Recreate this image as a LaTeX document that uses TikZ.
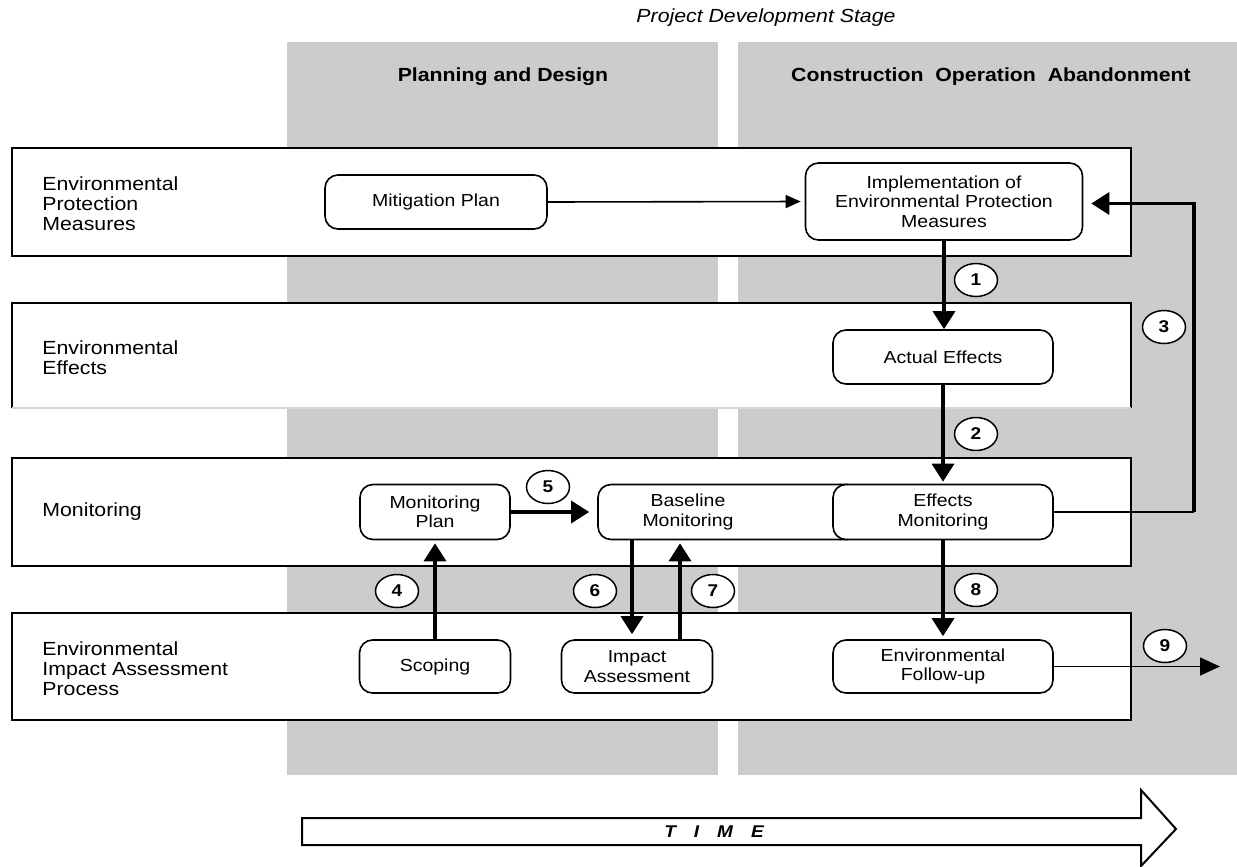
\documentclass[tikz,border=0pt]{standalone}
\usepackage{fontspec}
\setmainfont{Liberation Sans}[FakeStretch=1.12]
\usetikzlibrary{arrows.meta,shapes.geometric}
\definecolor{colgray}{RGB}{204,204,204}
\definecolor{edgegray}{RGB}{215,215,215}
\begin{document}
\begin{tikzpicture}[x=0.5pt,y=-0.5pt,
  lane/.style={draw=black,line width=1pt,fill=white},
  lanelabel/.style={anchor=west,align=left,font=\fontsize{9.5}{10}\selectfont,inner sep=0pt},
  proc/.style={draw=black,line width=0.8pt,rounded corners=6.5pt,fill=white,align=center,
    font=\fontsize{8.7}{9.75}\selectfont,inner sep=0pt},
  proctext/.style={align=center,font=\fontsize{8.7}{9.75}\selectfont,inner sep=0pt},
  numlabel/.style={ellipse,draw=black,line width=0.75pt,fill=white,minimum width=21.5pt,
    minimum height=16.5pt,inner sep=0pt,font=\fontsize{8.5}{9}\selectfont\bfseries},
  thinarrow/.style={line width=0.8pt,-{Triangle[width=6.5pt,length=7.5pt]}},
  bigthinarrow/.style={line width=0.8pt,-{Triangle[width=9pt,length=10pt]}},
  thickarrow/.style={line width=1.7pt,-{Triangle[width=11pt,length=9pt]}},
  colhead/.style={font=\fontsize{9.5}{10}\selectfont\bfseries,inner sep=0pt}
]
\useasboundingbox (0,0) rectangle (1237,867);
% columns
\fill[colgray] (287,42) rectangle (718,775);
\fill[colgray] (738,42) rectangle (1237,775);
\node[font=\fontsize{9.5}{10}\selectfont\itshape,inner sep=0pt] (title) at (766,18) {Project Development Stage};
\node[colhead] (h1) at (503,77) {Planning and Design};
\node[colhead] (h2) at (991,77) {Construction\ \ Operation\ \ Abandonment};
% lanes
\draw[lane] (12,148) rectangle (1131,256);
\fill[white] (12,303) rectangle (1131,408);
\draw[line width=1pt] (12,408) -- (12,303) -- (1131,303) -- (1131,408);
\draw[line width=1pt,edgegray] (12,408) -- (1131,408);
\draw[lane] (12,458) rectangle (1131,566);
\draw[lane] (12,613) rectangle (1131,720);
\node[lanelabel] (l1) at (42,204) {Environmental\\Protection\\Measures};
\node[lanelabel] (l2) at (42,358) {Environmental\\Effects};
\node[lanelabel] (l3) at (42,512) {Monitoring};
\node[lanelabel] (l4) at (42,669) {Environmental\\Impact Assessment\\Process};
% process nodes
\node[proc,minimum width=111pt,minimum height=27pt] (mit) at (436,202) {Mitigation Plan};
\node[proc,minimum width=138.5pt,minimum height=38.5pt] (impl) at (944,201.5) {Implementation of\\Environmental Protection\\Measures};
\node[proc,minimum width=110pt,minimum height=27pt] (act) at (943,357) {Actual Effects};
\node[proc,minimum width=75pt,minimum height=27.5pt] (monplan) at (435,512) {Monitoring\\Plan};
\node[proc,minimum width=131pt,minimum height=27.5pt] (base) at (729,512) {};
\node[proctext] (basetxt) at (688,512) {Baseline\\Monitoring};
\node[proc,minimum width=110pt,minimum height=27.5pt] (effmon) at (943,512) {Effects\\Monitoring};
\node[proc,minimum width=75.5pt,minimum height=26.5pt] (scop) at (435,666.5) {Scoping};
\node[proc,minimum width=75.5pt,minimum height=26.5pt] (impact) at (637,666.5) {Impact\\Assessment};
\node[proc,minimum width=110pt,minimum height=26.5pt] (follow) at (943,666.5) {Environmental\\Follow-up};
% connectors
\draw[thinarrow,shorten >=2pt] (mit.east) -- (impl.west);
\draw[thickarrow] (impl.south) -- (impl.south |- act.north);
\draw[thickarrow,shorten >=1pt] (act.south) -- (act.south |- effmon.north);
\coordinate (c3) at (1194,512);
\draw[line width=0.8pt] (effmon.east) -- (c3);
\draw[thickarrow,shorten >=4pt] (c3) |- ([yshift=-1pt]impl.east);
\draw[thickarrow,shorten >=1.5pt] (scop.north) -- (monplan.south);
\draw[thickarrow,shorten >=4pt] (monplan.east) -- (base.west);
\coordinate (x6) at (632,0);
\coordinate (x7) at (680,0);
\draw[thickarrow,shorten >=2.5pt] (base.south -| x6) -- (impact.north -| x6);
\draw[thickarrow,shorten >=1.5pt] (impact.north -| x7) -- (base.south -| x7);
\draw[thickarrow,shorten >=1.5pt] (effmon.south) -- (follow.north);
\coordinate (end9) at (1220,666.5);
\draw[bigthinarrow] (follow.east) -- (end9);
% number labels
\node[numlabel] (n1) at (976,280) {1};
\node[numlabel] (n2) at (976,434) {2};
\node[numlabel] (n3) at (1164,327) {3};
\node[numlabel] (n4) at (397,591) {4};
\node[numlabel] (n5) at (548,487) {5};
\node[numlabel] (n6) at (595,591) {6};
\node[numlabel] (n7) at (713,591) {7};
\node[numlabel] (n8) at (976,590) {8};
\node[numlabel] (n9) at (1165,646) {9};
% time arrow
\draw[line width=1pt,fill=white,line join=miter] (302,818) -- (1141,818) -- (1141,790) -- (1176,829) -- (1141,866) -- (1141,845) -- (302,845) -- cycle;
\node[font=\fontsize{8.5}{9}\selectfont\bfseries\itshape,inner sep=0pt] (time) at (714,832) {T\hspace{9pt}I\hspace{9pt}M\hspace{9pt}E};
\end{tikzpicture}
\end{document}
